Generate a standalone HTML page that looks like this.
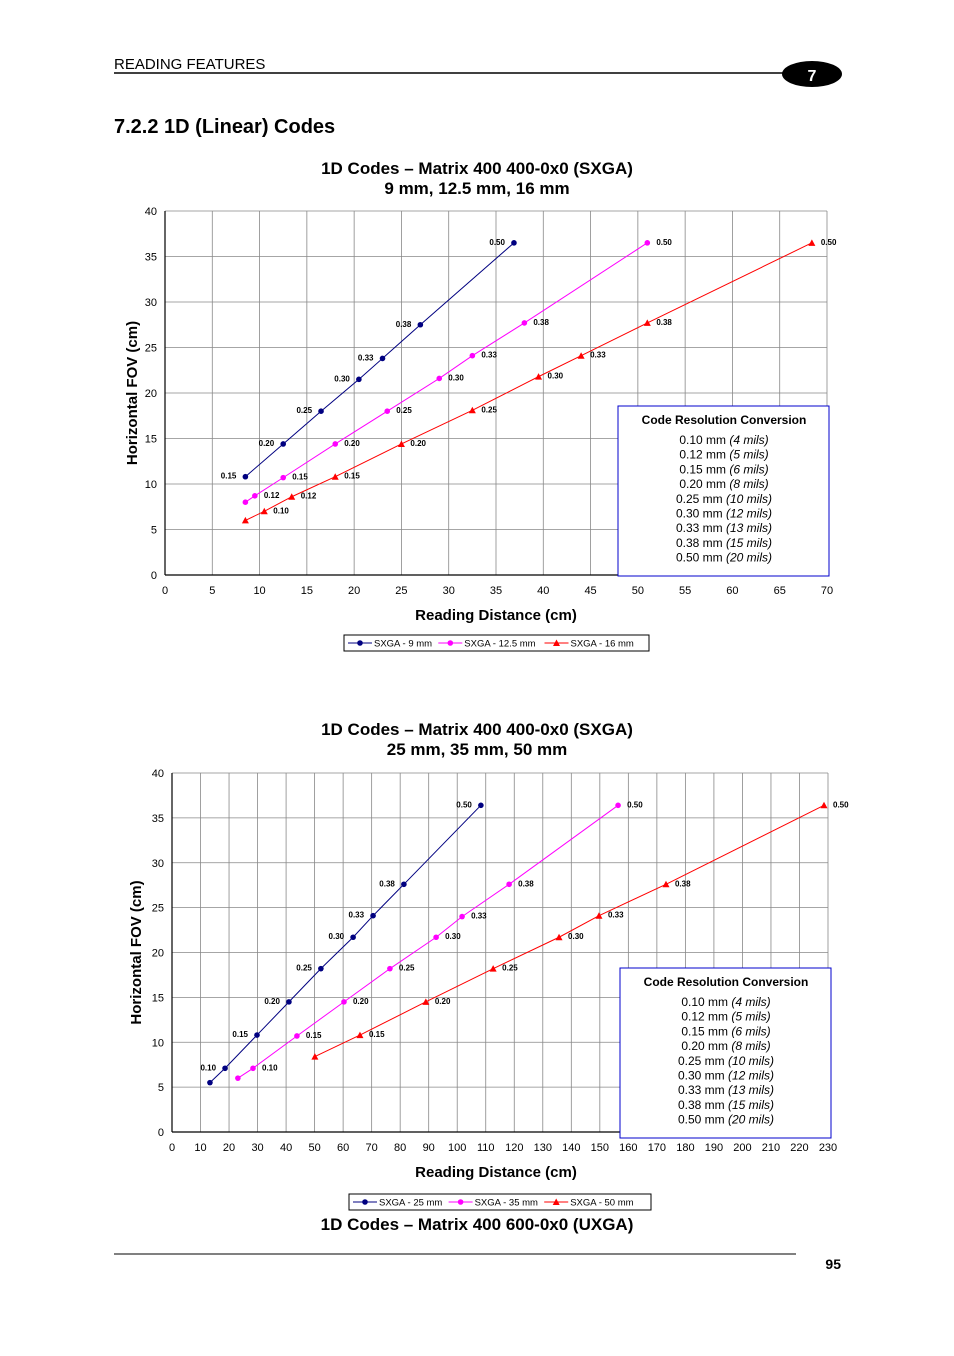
<!DOCTYPE html>
<html><head><meta charset="utf-8">
<style>
html,body{margin:0;padding:0;background:#fff;}
body{width:954px;height:1351px;position:relative;overflow:hidden;font-family:"Liberation Sans",Arial,sans-serif;}
svg text{font-family:"Liberation Sans",Arial,sans-serif;}
</style></head>
<body>
<svg id="page" width="954" height="1351" xmlns="http://www.w3.org/2000/svg">
  <text x="114" y="69" font-size="15">READING FEATURES</text>
  <line x1="114" y1="73" x2="790" y2="73" stroke="#000" stroke-width="1.5"/>
  <ellipse cx="812" cy="74" rx="30" ry="13" fill="#000"/>
  <text x="812" y="81" font-size="16" font-weight="bold" fill="#fff" text-anchor="middle">7</text>
  <text x="114" y="133" font-size="20" font-weight="bold">7.2.2    1D (Linear) Codes</text>
  <g id="c1"></g>
  <g id="c2"></g>
  <text x="477" y="1230" font-size="17" font-weight="bold" text-anchor="middle">1D Codes – Matrix 400 600-0x0 (UXGA)</text>
  <line x1="114" y1="1254" x2="796" y2="1254" stroke="#000" stroke-width="1"/>
  <text x="841" y="1269" font-size="14" font-weight="bold" text-anchor="end">95</text>
</svg>
<script>
// ---- Chart 1 data ----
const c1Labels=["0.10","0.12","0.15","0.20","0.25","0.30","0.33","0.38","0.50"];
const c1BlueX=[8.5,12.5,16.5,20.5,23,27,36.9];
const c1BlueY=[10.8,14.4,18.0,21.5,23.8,27.5,36.5];
const c1BlueL=["0.15","0.20","0.25","0.30","0.33","0.38","0.50"];
const c1MagX=[8.5,9.5,12.5,18,23.5,29,32.5,38,51];
const c1MagY=[8.0,8.7,10.7,14.4,18.0,21.6,24.1,27.7,36.5];
const c1MagL=["","0.12","0.15","0.20","0.25","0.30","0.33","0.38","0.50"];
const c1RedX=[8.5,10.5,13.4,18,25,32.5,39.5,44,51,68.4];
const c1RedY=[6.0,7.0,8.6,10.8,14.4,18.1,21.8,24.1,27.7,36.5];
const c1RedL=["","0.10","0.12","0.15","0.20","0.25","0.30","0.33","0.38","0.50"];
const c1XTicks=[0,5,10,15,20,25,30,35,40,45,50,55,60,65,70];
const c1YTicks=[0,5,10,15,20,25,30,35,40];
// ---- Chart 2 data ----
const c2BlueX=[13.3,18.6,29.8,41,52.2,63.5,70.5,81.3,108.3];
const c2BlueY=[5.5,7.1,10.8,14.5,18.2,21.7,24.1,27.6,36.4];
const c2BlueL=["","0.10","0.15","0.20","0.25","0.30","0.33","0.38","0.50"];
const c2MagX=[23.1,28.4,43.8,60.3,76.4,92.6,101.7,118.2,156.4];
const c2MagY=[6.0,7.1,10.7,14.5,18.2,21.7,24.0,27.6,36.4];
const c2MagL=["","0.10","0.15","0.20","0.25","0.30","0.33","0.38","0.50"];
const c2RedX=[50.1,65.9,89,112.6,135.7,149.7,173.2,228.6];
const c2RedY=[8.4,10.8,14.5,18.2,21.7,24.1,27.6,36.4];
const c2RedL=["","0.15","0.20","0.25","0.30","0.33","0.38","0.50"];
const c2XTicks=[0,10,20,30,40,50,60,70,80,90,100,110,120,130,140,150,160,170,180,190,200,210,220,230];
const c2YTicks=[0,5,10,15,20,25,30,35,40];
const convLines=[["0.10 mm ","(4 mils)"],["0.12 mm ","(5 mils)"],["0.15 mm ","(6 mils)"],["0.20 mm ","(8 mils)"],["0.25 mm ","(10 mils)"],["0.30 mm ","(12 mils)"],["0.33 mm ","(13 mils)"],["0.38 mm ","(15 mils)"],["0.50 mm ","(20 mils)"]];

const NS="http://www.w3.org/2000/svg";
function mk(p,tag,a,txt){const e=document.createElementNS(NS,tag);for(const k in a)e.setAttribute(k,a[k]);if(txt!==undefined)e.textContent=txt;p.appendChild(e);return e;}

function chart(g,o){
  const sx=v=>o.x0+(v-o.xmin)/(o.xmax-o.xmin)*(o.x1-o.x0);
  const sy=v=>o.y0-v/40*(o.y0-o.y1);
  let t=mk(g,'text',{x:477,y:o.ty,'font-size':17,'font-weight':'bold','text-anchor':'middle'},o.t1);
  
  
  t=mk(g,'text',{x:477,y:o.ty+20,'font-size':17,'font-weight':'bold','text-anchor':'middle'},o.t2);
  
  
  // grid
  o.xt.forEach(v=>{const l=mk(g,'line',{x1:sx(v),x2:sx(v),y1:o.y1,y2:o.y0,stroke:'#888','stroke-width':0.8});
    
    
    const tx=mk(g,'text',{x:sx(v),y:o.y0+19,'font-size':11,'text-anchor':'middle'},v);
    
    });
  o.yt.forEach(v=>{const l=mk(g,'line',{x1:o.x0,x2:o.x1,y1:sy(v),y2:sy(v),stroke:'#888','stroke-width':0.8});
    
    
    const tx=mk(g,'text',{x:o.x0-8,y:sy(v)+4,'font-size':11,'text-anchor':'end'},v);
    
    });
  let ax=mk(g,'line',{x1:o.x0,x2:o.x0,y1:o.y1,y2:o.y0,stroke:'#000','stroke-width':1.2});
  
  
  ax=mk(g,'line',{x1:o.x0,x2:o.x1,y1:o.y0,y2:o.y0,stroke:'#000','stroke-width':1.2});
  
  
  t=mk(g,'text',{x:(o.x0+o.x1)/2-80+80*0,y:o.y0+45,'font-size':15,'font-weight':'bold','text-anchor':'middle'},'Reading Distance (cm)');
  t.setAttribute('x',496);
  
  
  const ym=(o.y0+o.y1)/2;
  t=mk(g,'text',{x:o.ylx,y:ym,'font-size':15,'font-weight':'bold','text-anchor':'middle',transform:`rotate(-90 ${o.ylx} ${ym})`},'Horizontal FOV (cm)');
  
  
  // series
  o.series.forEach(s=>{
    const pts=s.x.map((v,i)=>sx(v)+','+sy(s.y[i])).join(' ');
    const pl=mk(g,'polyline',{points:pts,fill:'none',stroke:s.c,'stroke-width':1});
    
    
    s.x.forEach((v,i)=>{
      const px=sx(v),py=sy(s.y[i]);let m;
      if(s.tri)m=mk(g,'polygon',{points:`${px},${py-3.5} ${px-3.5},${py+3} ${px+3.5},${py+3}`,fill:s.c});
      else m=mk(g,'circle',{cx:px,cy:py,r:2.8,fill:s.c});
      
      
      if(s.l[i]){const lt=mk(g,'text',{x:s.left?px-9:px+9,y:py+2,'font-size':8,'font-weight':'bold','text-anchor':s.left?'end':'start'},s.l[i]);
        
        }
    });
  });
  // conversion box
  const bx=o.box[0],by=o.box[1];
  let r=mk(g,'rect',{x:bx,y:by,width:211,height:170,fill:'#fff',stroke:'#00c','stroke-width':1});
  
  
  t=mk(g,'text',{x:bx+106,y:by+18,'font-size':12,'font-weight':'bold','text-anchor':'middle'},'Code Resolution Conversion');
  
  
  convLines.forEach((c,i)=>{const tt=mk(g,'text',{x:bx+106,y:by+38+i*14.7,'font-size':12,'text-anchor':'middle'});
    
    
    mk(tt,'tspan',{},c[0]);mk(tt,'tspan',{'font-style':'italic'},c[1]);});
  // legend
  const lx=o.leg[0],ly=o.leg[1];
  r=mk(g,'rect',{x:lx,y:ly,width:o.leg[2],height:16,fill:'#fff',stroke:'#000','stroke-width':1});
  
  
  let cx=lx+4;
  o.series.forEach(s=>{
    mk(g,'line',{x1:cx,x2:cx+24,y1:ly+8,y2:ly+8,stroke:s.c,'stroke-width':1});
    if(s.tri)mk(g,'polygon',{points:`${cx+12},${ly+4.5} ${cx+8.5},${ly+11} ${cx+15.5},${ly+11}`,fill:s.c});
    else mk(g,'circle',{cx:cx+12,cy:ly+8,r:2.8,fill:s.c});
    const lt=mk(g,'text',{x:cx+26,y:ly+11.5,'font-size':9.5},s.name);
    
    
    cx+=26+s.name.length*5.3+6;
  });
}
chart(document.getElementById('c1'),{t1:'1D Codes – Matrix 400 400-0x0 (SXGA)',t2:'9 mm, 12.5 mm, 16 mm',ty:174,
  x0:165,x1:827,y0:575,y1:211,xmin:0,xmax:70,xt:c1XTicks,yt:c1YTicks,ylx:137,box:[618,406],leg:[344,635,305],
  series:[{n:'sxga-9mm',name:'SXGA - 9 mm',c:'#000080',x:c1BlueX,y:c1BlueY,l:c1BlueL,left:true},
          {n:'sxga-12-5mm',name:'SXGA - 12.5 mm',c:'#ff00ff',x:c1MagX,y:c1MagY,l:c1MagL},
          {n:'sxga-16mm',name:'SXGA - 16 mm',c:'#ff0000',x:c1RedX,y:c1RedY,l:c1RedL,tri:true}]});
chart(document.getElementById('c2'),{t1:'1D Codes – Matrix 400 400-0x0 (SXGA)',t2:'25 mm, 35 mm, 50 mm',ty:735,
  x0:172,x1:828,y0:1132,y1:773,xmin:0,xmax:230,xt:c2XTicks,yt:c2YTicks,ylx:141,box:[620,968],leg:[349,1194,302],
  series:[{n:'sxga-25mm',name:'SXGA - 25 mm',c:'#000080',x:c2BlueX,y:c2BlueY,l:c2BlueL,left:true},
          {n:'sxga-35mm',name:'SXGA - 35 mm',c:'#ff00ff',x:c2MagX,y:c2MagY,l:c2MagL},
          {n:'sxga-50mm',name:'SXGA - 50 mm',c:'#ff0000',x:c2RedX,y:c2RedY,l:c2RedL,tri:true}]});
</script>
</body></html>
